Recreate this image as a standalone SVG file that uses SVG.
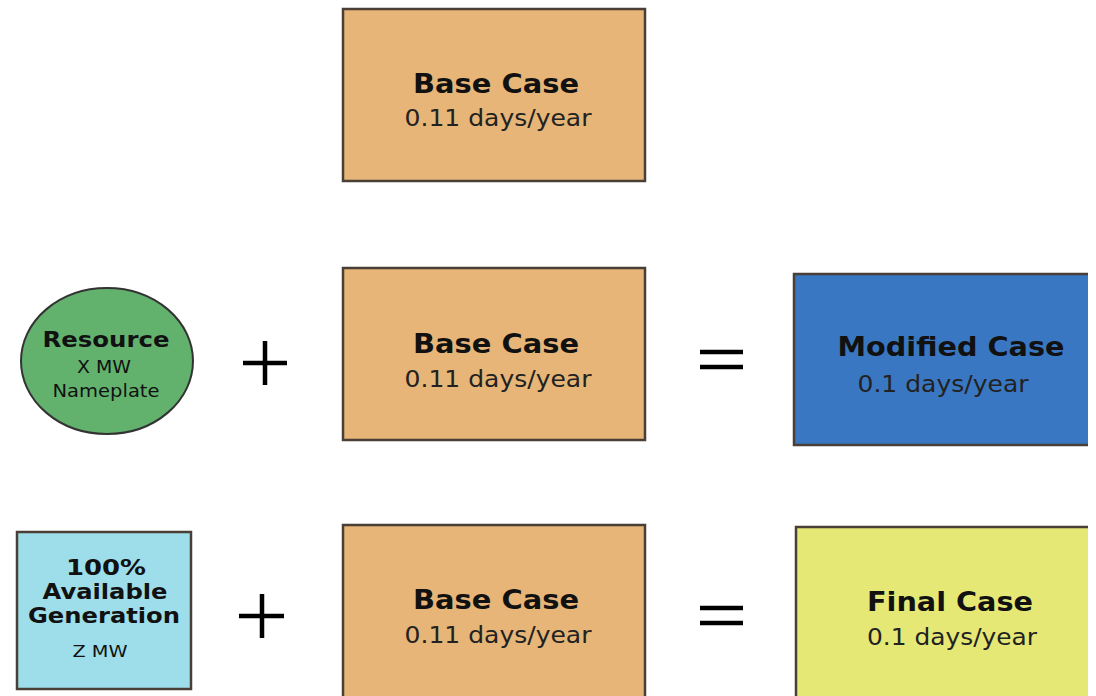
<svg xmlns="http://www.w3.org/2000/svg" width="1096" height="696" viewBox="0 0 1096 696">
<defs>
<clipPath id="clip"><rect x="0" y="0" width="1088" height="696"/></clipPath>
</defs>
<style>
.box{stroke:#4a3f36;stroke-width:2.5}
.base{fill:#E6B577}
.t{font-family:"DejaVu Sans","Verdana",sans-serif;fill:#111;text-anchor:middle}
.b{font-weight:bold;font-size:26px}
.s{font-size:23px;fill:#222}
.op{stroke:#000;stroke-width:4.5;fill:none}
</style>
<rect width="1096" height="696" fill="#fff"/>
<g clip-path="url(#clip)">
<g id="base-top">
<rect class="box base" x="343" y="9" width="302" height="172"/>
<text class="t b" x="496" y="93" textLength="166" lengthAdjust="spacingAndGlyphs">Base Case</text>
<text class="t s" x="498" y="126" textLength="187" lengthAdjust="spacingAndGlyphs">0.11 days/year</text>
</g>
<g id="resource">
<ellipse cx="107" cy="361" rx="86" ry="73" fill="#62B26E" stroke="#333" stroke-width="2"/>
<text class="t" x="106" y="347" font-weight="bold" font-size="21" textLength="127" lengthAdjust="spacingAndGlyphs">Resource</text>
<text class="t" x="104" y="373" font-size="17" fill="#222" textLength="54" lengthAdjust="spacingAndGlyphs">X MW</text>
<text class="t" x="106" y="397" font-size="17" fill="#222" textLength="107" lengthAdjust="spacingAndGlyphs">Nameplate</text>
</g>
<g id="base-mid">
<rect class="box base" x="343" y="268" width="302" height="172"/>
<text class="t b" x="496" y="353" textLength="166" lengthAdjust="spacingAndGlyphs">Base Case</text>
<text class="t s" x="498" y="387" textLength="187" lengthAdjust="spacingAndGlyphs">0.11 days/year</text>
</g>
<g id="modified">
<rect class="box" x="794" y="274" width="310" height="171" fill="#3A77C2"/>
<text class="t b" x="951" y="356" textLength="227" lengthAdjust="spacingAndGlyphs">Modified Case</text>
<text class="t s" x="943" y="392" textLength="171" lengthAdjust="spacingAndGlyphs">0.1 days/year</text>
</g>
<g id="available">
<rect class="box" x="17" y="532" width="174" height="157" fill="#9EDEEA"/>
<text class="t" x="106" y="575" font-weight="bold" font-size="21" textLength="80" lengthAdjust="spacingAndGlyphs">100%</text>
<text class="t" x="105" y="599" font-weight="bold" font-size="21" textLength="125" lengthAdjust="spacingAndGlyphs">Available</text>
<text class="t" x="104" y="623" font-weight="bold" font-size="21" textLength="152" lengthAdjust="spacingAndGlyphs">Generation</text>
<text class="t" x="100" y="657" font-size="16" fill="#333" textLength="55" lengthAdjust="spacingAndGlyphs">Z MW</text>
</g>
<g id="base-bot">
<rect class="box base" x="343" y="525" width="302" height="180"/>
<text class="t b" x="496" y="609" textLength="166" lengthAdjust="spacingAndGlyphs">Base Case</text>
<text class="t s" x="498" y="643" textLength="187" lengthAdjust="spacingAndGlyphs">0.11 days/year</text>
</g>
<g id="final">
<rect class="box" x="796" y="527" width="310" height="180" fill="#E6E875"/>
<text class="t b" x="950" y="611" textLength="166" lengthAdjust="spacingAndGlyphs">Final Case</text>
<text class="t s" x="952" y="645" textLength="170" lengthAdjust="spacingAndGlyphs">0.1 days/year</text>
</g>
</g>
<g id="connectors">
<path class="op" d="M243 363H287M265 341V385"/>
<path class="op" d="M239 616H284M262 594V638"/>
<path class="op" d="M700 352H743M700 367H743"/>
<path class="op" d="M700 608H743M700 623H743"/>
</g>
</svg>
